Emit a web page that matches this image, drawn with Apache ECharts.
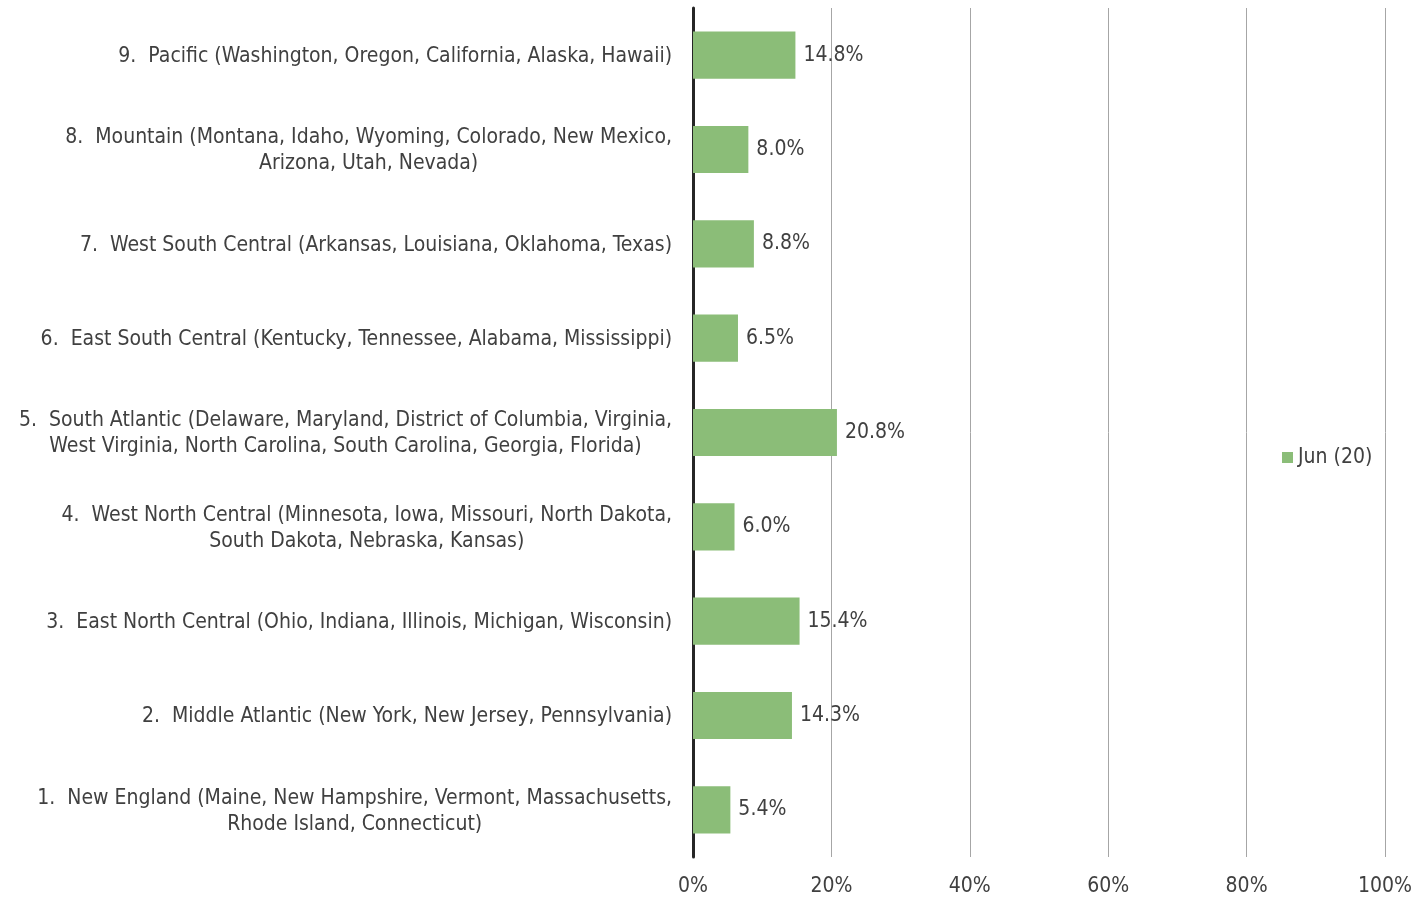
<!DOCTYPE html>
<html lang="en">
<head>
    <meta charset="UTF-8">
    <title>regions</title>
    <script src="https://cdn.jsdelivr.net/npm/echarts@6/dist/echarts.min.js"></script>
    <style>
        html, body { margin: 0; padding: 0; background: #fff; }
    </style>
</head>
<body>
<div id="main" style="width: 1420px;height:898px;"></div>
<script>
    // category labels, bottom to top
    var regions = [
        "1.  New England (Maine, New Hampshire, Vermont, Massachusetts,\nRhode Island, Connecticut)",
        "2.  Middle Atlantic (New York, New Jersey, Pennsylvania)",
        "3.  East North Central (Ohio, Indiana, Illinois, Michigan, Wisconsin)",
        "4.  West North Central (Minnesota, Iowa, Missouri, North Dakota,\nSouth Dakota, Nebraska, Kansas)",
        "5.  South Atlantic (Delaware, Maryland, District of Columbia, Virginia,\nWest Virginia, North Carolina, South Carolina, Georgia, Florida)",
        "6.  East South Central (Kentucky, Tennessee, Alabama, Mississippi)",
        "7.  West South Central (Arkansas, Louisiana, Oklahoma, Texas)",
        "8.  Mountain (Montana, Idaho, Wyoming, Colorado, New Mexico,\nArizona, Utah, Nevada)",
        "9.  Pacific (Washington, Oregon, California, Alaska, Hawaii)"
    ];
    var jun20 = [5.4, 14.3, 15.4, 6.0, 20.8, 6.5, 8.8, 8.0, 14.8];
    var seriesName = "Jun (20)";
    var xTicks = [0, 20, 40, 60, 80, 100];

    var fontFam = "DejaVu Sans Condensed";
    var chart = echarts.init(document.getElementById("main"));

    option = {
        backgroundColor: '#fff',
        animation: false,
        textStyle: { fontFamily: fontFam },
        grid: {
            left: 693,
            right: 35,
            top: 8,
            bottom: 41,
            containLabel: false
        },
        legend: {
            data: [seriesName],
            left: 1277,
            top: 442,
            itemWidth: 11,
            itemHeight: 11,
            itemGap: 6,
            icon: 'rect',
            textStyle: { color: '#404040', fontSize: 21, fontFamily: fontFam }
        },
        xAxis: {
            type: 'value',
            min: xTicks[0],
            max: xTicks[xTicks.length - 1],
            interval: 20,
            axisLine: { show: false },
            axisTick: { show: false },
            splitLine: { lineStyle: { color: '#A6A6A6', width: 1 } },
            axisLabel: {
                color: '#404040',
                fontSize: 21,
                margin: 19,
                fontFamily: fontFam,
                formatter: '{value}%'
            }
        },
        yAxis: {
            type: 'category',
            data: regions,
            axisLine: { show: true, lineStyle: { color: '#262626', width: 3 } },
            axisTick: { show: false },
            axisLabel: {
                margin: 21,
                padding: [3, 0, 0, 0],
                formatter: function (v) {
                    return v.split('\n').map(function (s) { return '{c|' + s + '}'; }).join('\n');
                },
                rich: {
                    c: {
                        align: 'center',
                        color: '#404040',
                        fontSize: 21,
                        lineHeight: 26,
                        fontFamily: fontFam
                    }
                }
            }
        },
        series: [{
            name: seriesName,
            type: 'bar',
            data: jun20,
            barWidth: '50%',
            itemStyle: { color: '#8BBD78' },
            label: {
                show: true,
                position: 'right',
                distance: 8,
                padding: [3, 0, 0, 0],
                color: '#404040',
                fontSize: 21,
                fontFamily: fontFam,
                formatter: function (p) { return p.value.toFixed(1) + '%'; }
            }
        }]
    };
    chart.setOption(option);
</script>
</body>
</html>
